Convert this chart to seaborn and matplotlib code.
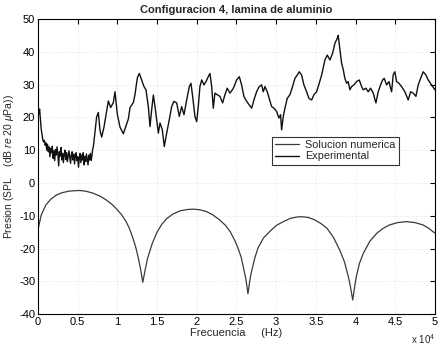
import numpy as np
import pandas as pd
import matplotlib
matplotlib.use("Agg")
import matplotlib.pyplot as plt
import seaborn as sns

# Frequency in units of 10^4 Hz, level in dB re 20 uPa
num_freq = [0.00, 0.04, 0.10, 0.16, 0.23, 0.30, 0.39, 0.52, 0.60, 0.69, 0.78,
            0.86, 0.93, 0.98, 1.05, 1.11, 1.15, 1.19, 1.23, 1.26, 1.29, 1.32,
            1.35, 1.38, 1.44, 1.50, 1.56, 1.62, 1.70, 1.79, 1.88, 1.96, 2.04,
            2.12, 2.20, 2.29, 2.36, 2.42, 2.48, 2.52, 2.56, 2.59, 2.62, 2.645,
            2.67, 2.69, 2.73, 2.77, 2.84, 2.92, 3.00, 3.09, 3.18, 3.26, 3.32,
            3.40, 3.48, 3.56, 3.64, 3.72, 3.80, 3.86, 3.91, 3.935, 3.965, 3.99,
            4.01, 4.05, 4.10, 4.18, 4.27, 4.35, 4.43, 4.53, 4.64, 4.75, 4.85,
            4.92, 5.00]
num_level = [-14.2, -9.8, -6.7, -5.0, -3.7, -3.0, -2.5, -2.3, -2.5, -3.1, -4.0,
             -5.2, -6.5, -7.7, -9.6, -11.8, -13.8, -16.4, -19.5, -22.5, -26.0, -30.3,
             -26.5, -23.0, -18.4, -15.0, -12.6, -10.9, -9.5, -8.5, -8.1, -8.0, -8.2,
             -8.7, -9.7, -11.3, -12.9, -14.8, -17.6, -19.9, -22.7, -26.0, -29.5, -33.8,
             -29.5, -27.0, -23.0, -19.9, -16.8, -14.8, -13.0, -11.8, -10.8, -10.4, -10.3,
             -10.5, -11.2, -12.3, -13.8, -16.5, -20.4, -24.0, -28.6, -31.5, -35.7, -31.5,
             -28.6, -24.5, -21.4, -17.8, -15.3, -13.8, -12.8, -12.1, -11.8, -12.1, -12.8,
             -13.8, -15.3]

exp_freq = [0.000, 0.010, 0.020, 0.030, 0.040, 0.050, 0.060, 0.070, 0.080, 0.090,
            0.100, 0.110, 0.120, 0.130, 0.140, 0.150, 0.160, 0.170, 0.180, 0.190,
            0.200, 0.210, 0.220, 0.230, 0.240, 0.250, 0.260, 0.270, 0.280, 0.290,
            0.300, 0.310, 0.320, 0.330, 0.340, 0.350, 0.360, 0.370, 0.380, 0.390,
            0.400, 0.410, 0.420, 0.430, 0.440, 0.450, 0.460, 0.470, 0.480, 0.490,
            0.500, 0.510, 0.520, 0.530, 0.540, 0.550, 0.560, 0.570, 0.580, 0.590,
            0.600, 0.610, 0.620, 0.630, 0.640, 0.650, 0.660, 0.670, 0.680, 0.690,
            0.697, 0.739, 0.760, 0.781, 0.802, 0.831, 0.865, 0.886, 0.915, 0.949,
            0.970, 0.999, 1.033, 1.075, 1.117, 1.138, 1.159, 1.201, 1.222, 1.251,
            1.276, 1.306, 1.335, 1.360, 1.390, 1.411, 1.432, 1.453, 1.474, 1.495,
            1.516, 1.537, 1.566, 1.591, 1.621, 1.654, 1.684, 1.713, 1.747, 1.780,
            1.810, 1.839, 1.873, 1.906, 1.927, 1.948, 1.977, 1.999, 2.019, 2.040,
            2.062, 2.091, 2.116, 2.145, 2.166, 2.188, 2.208, 2.229, 2.258, 2.292,
            2.326, 2.355, 2.384, 2.418, 2.460, 2.502, 2.536, 2.565, 2.594, 2.628,
            2.661, 2.691, 2.720, 2.754, 2.787, 2.817, 2.838, 2.859, 2.888, 2.913,
            2.943, 2.972, 3.006, 3.035, 3.056, 3.069, 3.090, 3.111, 3.140, 3.174,
            3.207, 3.237, 3.266, 3.291, 3.321, 3.350, 3.384, 3.413, 3.447, 3.476,
            3.510, 3.543, 3.573, 3.615, 3.644, 3.678, 3.711, 3.741, 3.770, 3.782,
            3.804, 3.825, 3.846, 3.866, 3.888, 3.908, 3.929, 3.951, 3.980, 4.013,
            4.047, 4.077, 4.097, 4.131, 4.160, 4.190, 4.223, 4.257, 4.286, 4.316,
            4.341, 4.362, 4.392, 4.421, 4.455, 4.475, 4.496, 4.518, 4.547, 4.580,
            4.622, 4.664, 4.694, 4.727, 4.761, 4.790, 4.820, 4.853, 4.887, 4.916,
            4.958, 5.000]
exp_level = [24.5, 21.0, 22.5, 19.5, 16.5, 14.8, 13.2, 12.5, 13.0, 11.5,
             12.2, 10.0, 11.8, 9.5, 11.0, 8.0, 10.5, 9.2, 11.2, 7.5,
             9.8, 6.8, 10.2, 8.5, 11.0, 9.0, 5.2, 9.5, 8.2, 10.8,
             7.0, 9.0, 6.2, 8.8, 10.0, 7.2, 9.2, 6.5, 8.0, 9.8,
             7.8, 6.0, 8.5, 9.5, 7.0, 8.8, 5.8, 8.2, 9.2, 6.8,
             8.0, 4.8, 7.5, 9.0, 6.2, 8.5, 7.0, 9.2, 5.5, 8.0,
             6.5, 8.8, 7.2, 5.5, 8.5, 7.0, 9.0, 6.8, 8.5, 10.5,
             11.0, 20.2, 21.5, 16.0, 14.0, 17.0, 22.0, 25.0, 23.0, 24.5,
             27.8, 21.0, 17.0, 15.0, 18.0, 19.5, 23.0, 24.5, 27.0, 32.0,
             33.4, 31.4, 29.4, 28.4, 23.3, 17.2, 22.3, 26.8, 23.3, 19.3,
             15.2, 18.3, 16.2, 11.1, 15.2, 19.3, 23.3, 24.9, 24.4, 20.3,
             23.3, 20.8, 25.3, 29.4, 30.4, 26.4, 20.3, 18.7, 23.3, 29.4,
             31.4, 29.9, 30.9, 32.4, 33.4, 29.4, 22.8, 27.4, 26.9, 26.4,
             24.4, 26.9, 28.9, 27.4, 28.8, 31.4, 32.4, 29.9, 26.4, 24.9,
             23.8, 22.8, 25.3, 27.8, 29.4, 29.9, 27.8, 29.4, 27.8, 25.8,
             23.3, 22.8, 21.8, 19.8, 20.8, 16.2, 20.3, 22.8, 25.8, 26.9,
             29.4, 31.9, 32.9, 33.9, 32.9, 29.9, 27.8, 25.8, 25.3, 26.9,
             27.8, 30.4, 32.9, 37.5, 39.0, 37.5, 39.5, 42.6, 44.1, 45.0,
             40.6, 36.5, 34.5, 31.9, 30.4, 30.9, 28.4, 29.4, 29.9, 30.9,
             31.4, 29.4, 28.4, 28.9, 27.8, 28.9, 27.4, 24.4, 27.8, 29.9,
             31.4, 31.9, 29.9, 30.9, 27.8, 33.0, 33.9, 30.9, 30.4, 29.4,
             27.8, 25.3, 27.8, 27.4, 26.4, 29.9, 31.9, 33.9, 32.9, 31.4,
             29.9, 28.4]

x_ticks = [0, 0.5, 1, 1.5, 2, 2.5, 3, 3.5, 4, 4.5, 5]
y_ticks = [-40, -30, -20, -10, 0, 10, 20, 30, 40, 50]

sns.set_style("white")
plt.rcParams["font.family"] = ["Liberation Sans", "DejaVu Sans"]
plt.rcParams["axes.unicode_minus"] = False
plt.rcParams["mathtext.fontset"] = "custom"
plt.rcParams["mathtext.rm"] = "Liberation Sans"
plt.rcParams["mathtext.it"] = "Liberation Sans:italic"

fig = plt.figure(figsize=(4.39, 3.49), dpi=100)
ax = fig.add_axes([0.0866, 0.100, 0.904, 0.8456])

num_df = pd.DataFrame({"freq": num_freq, "level": num_level})
exp_df = pd.DataFrame({"freq": exp_freq, "level": exp_level})

sns.lineplot(data=num_df, x="freq", y="level", ax=ax, color="#3a3a3a",
             linewidth=0.9, sort=False, estimator=None, label="Solucion numerica")
sns.lineplot(data=exp_df, x="freq", y="level", ax=ax, color="#111111",
             linewidth=1.0, sort=False, estimator=None, label="Experimental")

ax.set_xlim(0, 5)
ax.set_ylim(-40, 50)
ax.set_xticks(x_ticks)
ax.set_xticklabels([f"{t:g}" for t in x_ticks])
ax.set_yticks(y_ticks)
ax.set_yticklabels([str(t) for t in y_ticks])

ax.grid(True, color="#e2e2e2", linestyle=":", linewidth=0.6)
ax.tick_params(direction="in", length=3.5, width=0.8, top=True, right=True,
               labelsize=8, pad=2, colors="black")
for sp in ax.spines.values():
    sp.set_visible(True)
    sp.set_color("black")
    sp.set_linewidth(0.8)

ax.set_title("Configuracion 4, lamina de aluminio", fontsize=8,
             fontweight="bold", pad=4)
ax.set_xlabel("Frecuencia     (Hz)", fontsize=8, labelpad=1)
ax.set_ylabel(r"Presion (SPL    (dB $\mathit{re}$ 20 $\mu$Pa))", fontsize=7.5,
              labelpad=2)
ax.text(1.0, -0.10, r"x 10$^4$", transform=ax.transAxes, ha="right",
        va="baseline", fontsize=7)

leg = ax.legend(loc="upper left", bbox_to_anchor=(0.589, 0.60), fontsize=7.8,
                frameon=True, fancybox=False, handlelength=2.2,
                borderpad=0.3, labelspacing=0.1, handletextpad=0.6,
                borderaxespad=0)
leg.get_frame().set_edgecolor("black")
leg.get_frame().set_linewidth(0.8)

fig.savefig("out.png", dpi=100)
